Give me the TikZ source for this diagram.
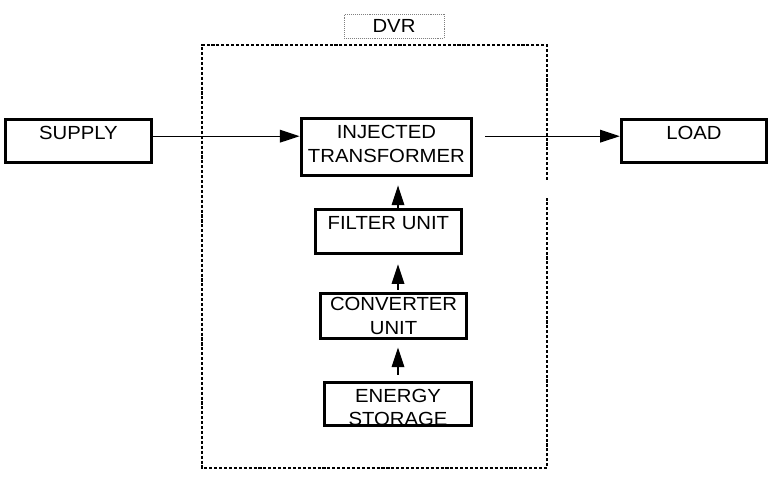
\documentclass[tikz,border=0pt]{standalone}
\usepackage{fontspec}
\setmainfont{Liberation Sans}[FakeStretch=1.07]
\usepackage{tikz}
\usepackage{xcolor}
\usetikzlibrary{arrows.meta}

\begin{document}
\begin{tikzpicture}[
	block/.style={draw, line width=2.6pt, align=center, inner sep=0pt, font=\fontsize{13.5}{17}\selectfont},
	onerow/.style={text height=9.6pt, text depth=12.4pt},
	flow/.style={-{Triangle[length=14pt,width=9pt]}, line width=0.9pt}]
	\useasboundingbox (0,0) rectangle (19.3,11.925);
	% frame of the DVR, open on the right side
	\draw[line width=1.5pt, dash pattern=on 2.2pt off 1.3pt] (13.675,7.425) -- (13.675,10.8) -- (5.05,10.8) -- (5.05,0.225) -- (13.675,0.225) -- (13.675,6.975);
	\node[draw=gray, line width=0.4pt, dash pattern=on 0.7pt off 0.7pt, minimum width=2.5cm, minimum height=0.575cm, text height=9.6pt, text depth=1pt, font=\fontsize{13.5}{17}\selectfont] (dvr) at (9.85,11.26) {DVR};
	\node[block, onerow, minimum width=3.65cm, minimum height=1.08cm] (supply) at (1.96,8.40) {SUPPLY};
	\node[block, onerow, minimum width=3.62cm, minimum height=1.08cm] (load) at (17.35,8.40) {LOAD};
	\node[block, minimum width=4.25cm, minimum height=1.43cm, text depth=4pt] (inj) at (9.66,8.25) {INJECTED\\TRANSFORMER};
	\node[block, onerow, minimum width=3.65cm, minimum height=1.10cm] (filter) at (9.71,6.14) {FILTER UNIT};
	\node[block, minimum width=3.65cm, minimum height=1.13cm] (conv) at (9.84,4.025) {CONVERTER\\UNIT};
	\node[block, minimum width=3.67cm, minimum height=1.08cm, text height=30pt, text depth=0pt] (energy) at (9.95,1.825) {ENERGY\\[-1pt]STORAGE};
	% connectors
	\coordinate (mainline) at (0,8.52);
	\coordinate (stack) at (9.95,0);
	\draw[flow] (supply.east |- mainline) -- (inj.west |- mainline);
	\draw[flow, shorten <=8.5pt] (inj.east |- mainline) -- (load.west |- mainline);
	\draw[flow, shorten >=5.7pt] (filter.north -| stack) -- (inj.south -| stack);
	\draw[flow, shorten <=1.4pt, shorten >=6.4pt] (conv.north -| stack) -- (filter.south -| stack);
	\draw[flow, shorten <=4.3pt, shorten >=5pt] (energy.north -| stack) -- (conv.south -| stack);
\end{tikzpicture}
\end{document}
